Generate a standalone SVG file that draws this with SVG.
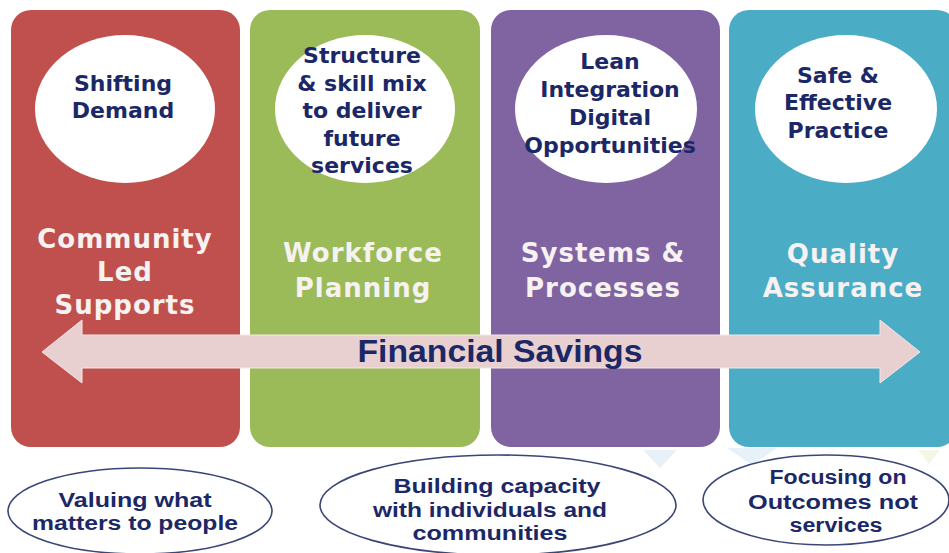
<svg xmlns="http://www.w3.org/2000/svg" width="949" height="553" viewBox="0 0 949 553">
<style>
.col{stroke:none}
.bubble{fill:#ffffff}
.ctext{font-family:"DejaVu Sans",Verdana,sans-serif;font-weight:bold;font-size:22px;fill:#1c2866;text-anchor:middle}
.title{font-family:"DejaVu Sans",Verdana,sans-serif;font-weight:bold;font-size:26px;letter-spacing:1px;fill:#f7f2f2;text-anchor:middle}
.oval{fill:#ffffff;stroke:#3a4678;stroke-width:1.6}
.otext{font-family:"Liberation Sans",Arial,sans-serif;font-weight:bold;font-size:20px;fill:#1c2866;text-anchor:middle}
.arrowtext{font-family:"Liberation Sans",Arial,sans-serif;font-weight:bold;font-size:31px;fill:#1c2866;text-anchor:middle}
.tri{opacity:0.35}
</style>
<rect width="949" height="553" fill="#ffffff"/>
<g id="decor">
<polygon class="tri" points="643,450 677,450 660,468" fill="#bcd6ea"/>
<polygon class="tri" points="727,448 777,448 752,465" fill="#bcd6ea"/>
<polygon class="tri" points="918,450 940,450 929,464" fill="#dfe8b8"/>
</g>
<g id="col-community">
<rect class="col" x="11" y="10" width="229" height="437" rx="20" fill="#c0504d"/>
<ellipse class="bubble" cx="125" cy="109" rx="90" ry="74"/>
<text class="ctext" x="123" y="91">Shifting</text>
<text class="ctext" x="123" y="118">Demand</text>
<text class="title" x="125" y="248">Community</text>
<text class="title" x="125" y="281">Led</text>
<text class="title" x="125" y="314">Supports</text>
</g>
<g id="col-workforce">
<rect class="col" x="250" y="10" width="230" height="437" rx="20" fill="#9bbb59"/>
<ellipse class="bubble" cx="365" cy="109" rx="90" ry="74"/>
<text class="ctext" x="362" y="63">Structure</text>
<text class="ctext" x="362" y="91">&amp; skill  mix</text>
<text class="ctext" x="362" y="118">to deliver</text>
<text class="ctext" x="362" y="146">future</text>
<text class="ctext" x="362" y="173">services</text>
<text class="title" x="363" y="262">Workforce</text>
<text class="title" x="363" y="297">Planning</text>
</g>
<g id="col-systems">
<rect class="col" x="491" y="10" width="229" height="437" rx="20" fill="#8064a2"/>
<ellipse class="bubble" cx="606" cy="109" rx="91" ry="74"/>
<text class="ctext" x="610" y="69">Lean</text>
<text class="ctext" x="610" y="97">Integration</text>
<text class="ctext" x="610" y="125">Digital</text>
<text class="ctext" x="610" y="153">Opportunities</text>
<text class="title" x="603" y="262">Systems &amp;</text>
<text class="title" x="603" y="297">Processes</text>
</g>
<g id="col-quality">
<rect class="col" x="729" y="10" width="228" height="437" rx="20" fill="#4bacc6"/>
<ellipse class="bubble" cx="846" cy="109" rx="91" ry="74"/>
<text class="ctext" x="838" y="83">Safe &amp;</text>
<text class="ctext" x="838" y="110">Effective</text>
<text class="ctext" x="838" y="138">Practice</text>
<text class="title" x="843" y="263">Quality</text>
<text class="title" x="843" y="297">Assurance</text>
</g>
<g id="connectors">
<polygon points="42,352 82,320 82,335 880,335 880,320 920,352 880,383 880,368 82,368 82,383" fill="#e8d0d1" stroke="#f4e6e6" stroke-width="1"/>
<text class="arrowtext" x="500" y="362" textLength="285" lengthAdjust="spacingAndGlyphs">Financial  Savings</text>
</g>
<g id="oval-valuing">
<ellipse class="oval" cx="140" cy="511" rx="132" ry="43"/>
<text class="otext" x="135" y="507" textLength="153" lengthAdjust="spacingAndGlyphs">Valuing  what</text>
<text class="otext" x="135" y="530" textLength="206" lengthAdjust="spacingAndGlyphs">matters to people</text>
</g>
<g id="oval-building">
<ellipse class="oval" cx="498" cy="505" rx="178" ry="50"/>
<text class="otext" x="497" y="493" textLength="207" lengthAdjust="spacingAndGlyphs">Building  capacity</text>
<text class="otext" x="490" y="517" textLength="234" lengthAdjust="spacingAndGlyphs">with individuals  and</text>
<text class="otext" x="490" y="540" textLength="155" lengthAdjust="spacingAndGlyphs">communities</text>
</g>
<g id="oval-focusing">
<ellipse class="oval" cx="826" cy="500" rx="123" ry="45"/>
<text class="otext" x="838" y="484" textLength="137" lengthAdjust="spacingAndGlyphs">Focusing  on</text>
<text class="otext" x="833" y="509" textLength="170" lengthAdjust="spacingAndGlyphs">Outcomes not</text>
<text class="otext" x="836" y="532" textLength="93" lengthAdjust="spacingAndGlyphs">services</text>
</g>
</svg>
